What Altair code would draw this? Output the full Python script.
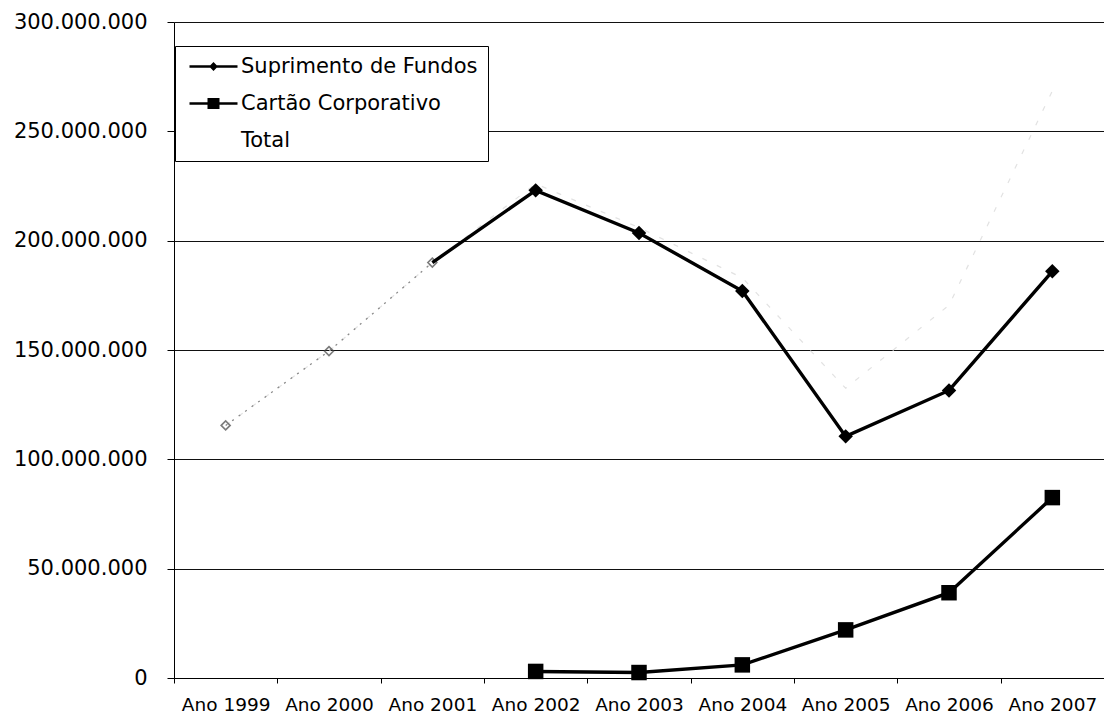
import altair as alt
import pandas as pd

# ---- data ----
years = ["Ano 1999", "Ano 2000", "Ano 2001", "Ano 2002", "Ano 2003",
         "Ano 2004", "Ano 2005", "Ano 2006", "Ano 2007"]
suprimento = [115_500_000, 149_500_000, 190_000_000, 223_000_000, 203_500_000,
              177_000_000, 110_500_000, 131_500_000, 186_000_000]
cartao = [None, None, None, 3_000_000, 2_500_000,
          6_000_000, 22_000_000, 39_000_000, 82_500_000]
series_names = ["Suprimento de Fundos", "Cartão Corporativo", "Total"]
y_ticks = [0, 50_000_000, 100_000_000, 150_000_000, 200_000_000, 250_000_000, 300_000_000]
faint_years = ["Ano 1999", "Ano 2000", "Ano 2001"]   # scan lost most of the ink here

# ---- build long table ----
rows = []
for i, yr in enumerate(years):
    s = suprimento[i]
    c = cartao[i]
    rows.append({"year": yr, "series": series_names[0], "value": s, "faint": yr in faint_years})
    if c is not None:
        rows.append({"year": yr, "series": series_names[1], "value": c, "faint": False})
    rows.append({"year": yr, "series": series_names[2], "value": s + (c or 0), "faint": False})
df = pd.DataFrame(rows)

FONT = "DejaVu Sans"

x_enc = alt.X(
    "year:N", sort=years,
    scale=alt.Scale(type="band", paddingInner=0, paddingOuter=0),
    axis=alt.Axis(title=None, labelAngle=0, tickBand="extent", grid=False,
                  labelFont=FONT, labelFontSize=18.5, labelColor="black",
                  tickSize=5, labelPadding=12, domainColor="black", tickColor="black"),
)
y_enc = alt.Y(
    "value:Q",
    scale=alt.Scale(domain=[0, 300_000_000], nice=False, zero=True),
    axis=alt.Axis(title=None, values=y_ticks, grid=True,
                  labelExpr="replace(format(datum.value, ',d'), regexp(',', 'g'), '.')",
                  labelFont=FONT, labelFontSize=21, labelColor="black",
                  tickSize=7, labelPadding=20, domainColor="black", tickColor="black",
                  gridColor="#111111", gridWidth=1),
)

base = alt.Chart(df)

is_sup = "datum.series == 'Suprimento de Fundos'"

total_line = base.transform_filter("datum.series == 'Total'").mark_line(
    color="#e2e2e2", strokeWidth=1.2, strokeDash=[5, 11]
).encode(x=x_enc, y=y_enc)

sup_faint = base.transform_filter(f"{is_sup} && datum.faint").mark_line(
    color="#8a8a8a", strokeWidth=1.3, strokeDash=[2, 6]).encode(x=x_enc, y=y_enc)

sup_faint_pts = base.transform_filter(f"{is_sup} && datum.faint").mark_point(
    shape="diamond", filled=False, color="#444444", strokeWidth=1.6, size=80).encode(
    x=x_enc, y=y_enc)

sup_solid = base.transform_filter(
    f"{is_sup} && (!datum.faint || datum.year == 'Ano 2001')"
).mark_line(color="black", strokeWidth=3.4).encode(x=x_enc, y=y_enc)

sup_pts = base.transform_filter(f"{is_sup} && !datum.faint").mark_point(
    shape="diamond", filled=True, color="black", opacity=1, size=210).encode(
    x=x_enc, y=y_enc)

car_line = base.transform_filter("datum.series == 'Cartão Corporativo'").mark_line(
    color="black", strokeWidth=3.4).encode(x=x_enc, y=y_enc)

car_pts = base.transform_filter("datum.series == 'Cartão Corporativo'").mark_point(
    shape="square", filled=True, color="black", opacity=1, size=240).encode(x=x_enc, y=y_enc)

# legend symbols: line with diamond, line with square, nothing
sym_sup = "M-3,-0.16H3V0.16H-3Z M0,-0.55L0.55,0L0,0.55L-0.55,0Z"
sym_car = "M-3,-0.16H3V0.16H-3Z M-0.75,-0.7H0.75V0.7H-0.75Z"
sym_tot = "M-0.01,-0.01H0.01V0.01H-0.01Z"

legend_kw = dict(
    title=None, orient="none", legendX=1, legendY=24, direction="vertical",
    padding=10, strokeColor="black", fillColor="white", cornerRadius=0,
    labelFont=FONT, labelFontSize=21, labelColor="black", labelLimit=400,
    symbolSize=256, symbolOffset=18, labelOffset=17, rowPadding=15,
    symbolStrokeWidth=0,
)

legend_layer = base.transform_filter("false").mark_point(filled=True, opacity=1).encode(
    x=x_enc, y=y_enc,
    shape=alt.Shape("series:N", scale=alt.Scale(domain=series_names, range=[sym_sup, sym_car, sym_tot]),
                    legend=alt.Legend(**legend_kw)),
    color=alt.Color("series:N", scale=alt.Scale(domain=series_names, range=["black", "black", "white"]),
                    legend=alt.Legend(**legend_kw)),
)

chart = alt.layer(
    total_line, sup_faint, sup_faint_pts, sup_solid, car_line, sup_pts, car_pts, legend_layer
).properties(
    width=930, height=656,
    autosize=alt.AutoSizeParams(type="none"),
    padding={"left": 166, "top": 14, "right": 0, "bottom": 38},
    background="white",
).configure_view(stroke=None)

chart.save("out.html", embed_options={"renderer": "svg", "actions": False})
